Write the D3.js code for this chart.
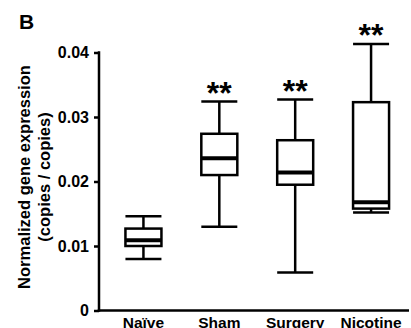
<!DOCTYPE html>
<html>
<head>
<meta charset="utf-8">
<script src="https://cdn.jsdelivr.net/npm/d3@7/dist/d3.min.js"></script>
<style>
  html, body { margin: 0; padding: 0; background: #fff; }
  svg text { font-family: "Liberation Sans", Arial, sans-serif; font-weight: bold; fill: #000; }
</style>
</head>
<body>
<div id="chart"></div>
<script>
// groups and box statistics
const groups = ['Naïve', 'Sham', 'Surgery', 'Nicotine'];
const whiskerLow = [0.0080, 0.0130, 0.0059, 0.0152];
const q1 = [0.0100, 0.0210, 0.0195, 0.0158];
const median = [0.0109, 0.0236, 0.0214, 0.0168];
const q3 = [0.0127, 0.0274, 0.0264, 0.0323];
const whiskerHigh = [0.0146, 0.0324, 0.0327, 0.0413];
const signif = ['', '**', '**', '**'];
const yTicks = [0, 0.01, 0.02, 0.03, 0.04];

const width = 411, height = 328;
const plotLeft = 99, plotRight = 409, plotTop = 52.5, plotBottom = 310.5;
const boxW = 36;

const svg = d3.select('#chart')
  .append('svg')
  .attr('width', width)
  .attr('height', height);

const x = d3.scaleBand()
  .domain(groups)
  .range([105.5, plotRight])
  .padding(0);

const y = d3.scaleLinear()
  .domain([0, 0.04])
  .range([plotBottom, plotTop]);

// y axis
const yAxis = svg.append('g')
  .attr('transform', 'translate(' + plotLeft + ',0)')
  .call(d3.axisLeft(y)
    .tickValues(yTicks)
    .tickSize(5)
    .tickPadding(5)
    .tickFormat(d => d === 0 ? '0' : d3.format('.2f')(d)));
yAxis.select('.domain').remove();
yAxis.selectAll('line').attr('stroke', '#000').attr('stroke-width', 2.5);
yAxis.selectAll('text').style('font-size', '16px').attr('font-family', null);

svg.append('line')
  .attr('x1', plotLeft).attr('x2', plotLeft)
  .attr('y1', y(0.04) - 1.25).attr('y2', plotBottom + 1.25)
  .attr('stroke', '#000').attr('stroke-width', 2.5);

// x axis
const xAxis = svg.append('g')
  .attr('transform', 'translate(0,' + plotBottom + ')')
  .call(d3.axisBottom(x).tickSize(0).tickPadding(6));
xAxis.select('.domain').remove();
xAxis.selectAll('text').style('font-size', '15.5px').attr('font-family', null);

svg.append('line')
  .attr('x1', plotLeft - 1.25).attr('x2', plotRight)
  .attr('y1', plotBottom).attr('y2', plotBottom)
  .attr('stroke', '#000').attr('stroke-width', 2.5);

// boxes
const boxes = svg.selectAll('.box')
  .data(groups)
  .enter()
  .append('g')
  .attr('class', 'box')
  .attr('transform', d => 'translate(' + (x(d) + x.bandwidth() / 2) + ',0)');

boxes.append('line')
  .attr('x1', 0).attr('x2', 0)
  .attr('y1', (d, i) => y(whiskerLow[i]))
  .attr('y2', (d, i) => y(whiskerHigh[i]))
  .attr('stroke', '#000').attr('stroke-width', 2.5);

boxes.append('rect')
  .attr('x', -boxW / 2)
  .attr('width', boxW)
  .attr('y', (d, i) => y(q3[i]))
  .attr('height', (d, i) => y(q1[i]) - y(q3[i]))
  .attr('fill', '#fff')
  .attr('stroke', '#000')
  .attr('stroke-width', 2.5);

boxes.append('line')
  .attr('x1', -boxW / 2).attr('x2', boxW / 2)
  .attr('y1', (d, i) => y(median[i]))
  .attr('y2', (d, i) => y(median[i]))
  .attr('stroke', '#000').attr('stroke-width', 4);

[whiskerLow, whiskerHigh].forEach(arr => {
  boxes.append('line')
    .attr('x1', -boxW / 2).attr('x2', boxW / 2)
    .attr('y1', (d, i) => y(arr[i]))
    .attr('y2', (d, i) => y(arr[i]))
    .attr('stroke', '#000').attr('stroke-width', 2.5);
});

boxes.append('text')
  .attr('text-anchor', 'middle')
  .attr('y', (d, i) => y(whiskerHigh[i]) + 2)
  .style('font-size', '32px')
  .text((d, i) => signif[i]);

// y title
const title = svg.append('text')
  .attr('transform', 'translate(30,177) rotate(-90)')
  .attr('text-anchor', 'middle')
  .style('font-size', '16.5px');
title.append('tspan').attr('x', 0).attr('y', 0).text('Normalized gene expression');
title.append('tspan').attr('x', 0).attr('y', 20).text('(copies / copies)');

// panel letter
svg.append('text')
  .attr('x', 19)
  .attr('y', 29)
  .style('font-size', '21px')
  .text('B');
</script>
</body>
</html>
